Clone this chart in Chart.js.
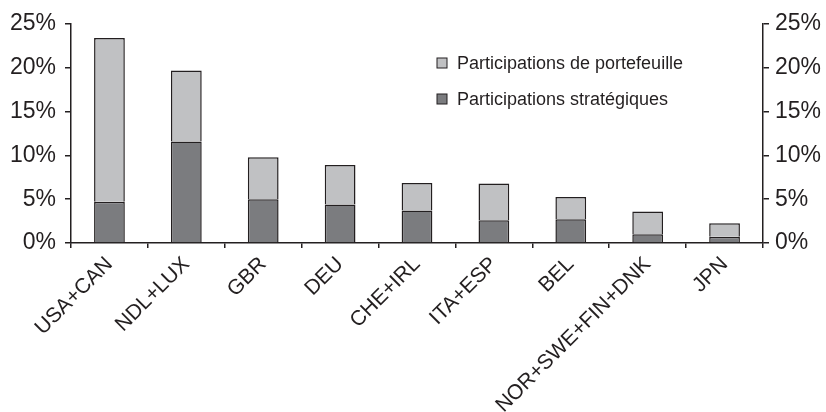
<!DOCTYPE html>
<html>
<head>
<meta charset="utf-8">
<script src="https://cdn.jsdelivr.net/npm/chart.js@4"></script>
<style>
    html, body { margin: 0; padding: 0; background: #ffffff; }
    #wrap { width: 826px; height: 412px; position: relative; }
</style>
</head>
<body>
<div id="wrap"><canvas id="chart"></canvas></div>
<script>
// Chart data (percent of total)
const categories = ['USA+CAN', 'NDL+LUX', 'GBR', 'DEU', 'CHE+IRL', 'ITA+ESP', 'BEL', 'NOR+SWE+FIN+DNK', 'JPN'];
const strategic = [4.7, 11.6, 5.0, 4.4, 3.7, 2.6, 2.7, 1.0, 0.7];
const portfolio = [18.7, 8.1, 4.8, 4.5, 3.15, 4.2, 2.55, 2.6, 1.55];
const yTicks = [0, 5, 10, 15, 20, 25];

const INK = '#231f20';
const FONT = "'Liberation Sans', Arial, sans-serif";

// Legend drawn inside the plot, portfolio first
const insideLegend = {
    id: 'insideLegend',
    afterDraw(chart) {
        const ctx = chart.ctx;
        const items = chart.data.datasets.slice().reverse();
        ctx.save();
        ctx.font = '18px ' + FONT;
        ctx.textBaseline = 'middle';
        items.forEach((ds, i) => {
            const y = 63 + i * 36;
            ctx.fillStyle = ds.backgroundColor;
            ctx.fillRect(437, y - 5, 10, 10);
            ctx.strokeStyle = INK;
            ctx.lineWidth = 1;
            ctx.strokeRect(437, y - 5, 10, 10);
            ctx.fillStyle = INK;
            ctx.fillText(ds.label, 457, y + 1);
        });
        ctx.restore();
    }
};

new Chart(document.getElementById('chart'), {
    type: 'bar',
    data: {
        labels: categories,
        datasets: [{
            label: 'Participations stratégiques',
            data: strategic,
            backgroundColor: '#7b7c7f',
            borderColor: INK,
            borderWidth: 1.5
        }, {
            label: 'Participations de portefeuille',
            data: portfolio,
            backgroundColor: '#c0c1c3',
            borderColor: INK,
            borderWidth: 1.5
        }]
    },
    options: {
        responsive: true,
        maintainAspectRatio: false,
        animation: false,
        layout: { padding: { top: 24, bottom: 0, left: 0, right: 0 } },
        categoryPercentage: 0.8,
        barPercentage: 0.5,
        plugins: {
            legend: { display: false },
            tooltip: { enabled: false }
        },
        scales: {
            x: {
                stacked: true,
                afterFit(scale) { scale.height = 169; },
                border: { color: INK, width: 1.5 },
                grid: { offset: true, drawOnChartArea: false, tickLength: 5, color: INK, lineWidth: 1.5 },
                ticks: {
                    color: INK,
                    font: { family: FONT, size: 21 },
                    minRotation: 45,
                    maxRotation: 45,
                    autoSkip: false,
                    padding: 4
                }
            },
            y: {
                stacked: true,
                position: 'left',
                min: 0,
                max: 25,
                afterFit(scale) { scale.width = 71; },
                afterBuildTicks(scale) { scale.ticks = yTicks.map(v => ({ value: v })); },
                border: { color: INK, width: 1.5 },
                grid: { drawOnChartArea: false, tickLength: 6, color: INK, lineWidth: 1.5 },
                ticks: {
                    color: INK,
                    font: { family: FONT, size: 23 },
                    padding: 9,
                    callback: v => v + '%'
                }
            },
            y2: {
                position: 'right',
                min: 0,
                max: 25,
                afterFit(scale) { scale.width = 63; },
                afterBuildTicks(scale) { scale.ticks = yTicks.map(v => ({ value: v })); },
                border: { color: INK, width: 1.5 },
                grid: { drawOnChartArea: false, tickLength: 6, color: INK, lineWidth: 1.5 },
                ticks: {
                    color: INK,
                    font: { family: FONT, size: 23 },
                    padding: 6,
                    callback: v => v + '%'
                }
            }
        }
    },
    plugins: [insideLegend]
});
</script>
</body>
</html>
